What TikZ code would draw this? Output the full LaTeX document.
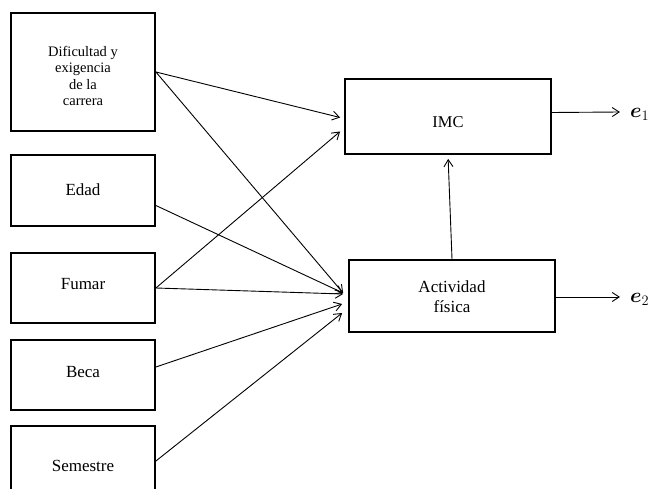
\documentclass[tikz,border=0pt]{standalone}
\usepackage{amsmath}
\usepackage{fontspec}
\setmainfont{Liberation Serif}
\usetikzlibrary{arrows.meta,calc}
\begin{document}
\begin{tikzpicture}[x=1pt,y=-1pt,
  box/.style={draw,line width=1.8pt,inner sep=0pt},
  lbox/.style={box,minimum width=144pt},
  txt/.style={inner sep=0pt,align=center,font=\fontsize{17}{20}\selectfont},
  conn/.style={line width=0.9pt,-{Straight Barb[length=7pt,width=9pt,line width=0.9pt]}},
  elab/.style={anchor=west,inner sep=0pt,font=\fontsize{21}{21}\selectfont}]
\useasboundingbox (0,0) rectangle (648,489);
% left boxes
\node[lbox,minimum height=118pt] (dif) at (83,72) {};
\node[lbox,minimum height=71pt] (edad) at (83,190.5) {};
\node[lbox,minimum height=70pt] (fum) at (83,288) {};
\node[lbox,minimum height=70pt] (beca) at (83,375) {};
\node[lbox,minimum height=70pt] (sem) at (83,461) {};
% right boxes
\node[box,minimum width=206pt,minimum height=75pt] (imc) at (448,116.5) {};
\node[box,minimum width=206pt,minimum height=72pt] (act) at (452,296) {};
% texts
\node[txt,font=\fontsize{14.5}{16.5}\selectfont] (diftxt) at ([yshift=-4pt]dif.center) {Dificultad y\\exigencia\\de la\\carrera};
\node[txt] (edadtxt) at ([yshift=1pt]edad.center) {Edad};
\node[txt] (fumtxt) at ([yshift=4pt]fum.center) {Fumar};
\node[txt] (becatxt) at ([yshift=3pt]beca.center) {Beca};
\node[txt] (semtxt) at ([yshift=-5pt]sem.center) {Semestre};
\node[txt,font=\fontsize{16.5}{18}\selectfont] (imctxt) at ([yshift=-6pt]imc.center) {IMC};
\node[txt] (acttxt) at ([yshift=-1pt]act.center) {Actividad\\física};
% error terms
\coordinate (e1c) at (620,112);
\coordinate (e2c) at (620,297);
\node[elab] (e1) at (630,114) {$\boldsymbol{e}_1$};
\node[elab] (e2) at (630,299) {$\boldsymbol{e}_2$};
% connectors
\draw[conn] (dif.east) -- ($(imc.west)+(-4,1)$);
\draw[conn] (dif.east) -- ($(act.west)+(-5,-3)$);
\draw[conn] ($(edad.east)+(0,15)$) -- ($(act.west)+(-5,-3)$);
\draw[conn] (fum.east) -- ($(imc.west)+(-4,15)$);
\draw[conn] (fum.east) -- ($(act.west)+(-5,-2)$);
\draw[conn] ($(beca.east)+(0,-8)$) -- ($(act.west)+(-6,8)$);
\draw[conn] (sem.east) -- ($(act.west)+(-6,17)$);
\draw[conn,shorten >=4pt] (act.north) -- (imc.south);
\draw[conn] ($(imc.east)+(0,-4)$) -- (e1c);
\draw[conn] ($(act.east)+(0,1)$) -- (e2c);
\end{tikzpicture}
\end{document}
